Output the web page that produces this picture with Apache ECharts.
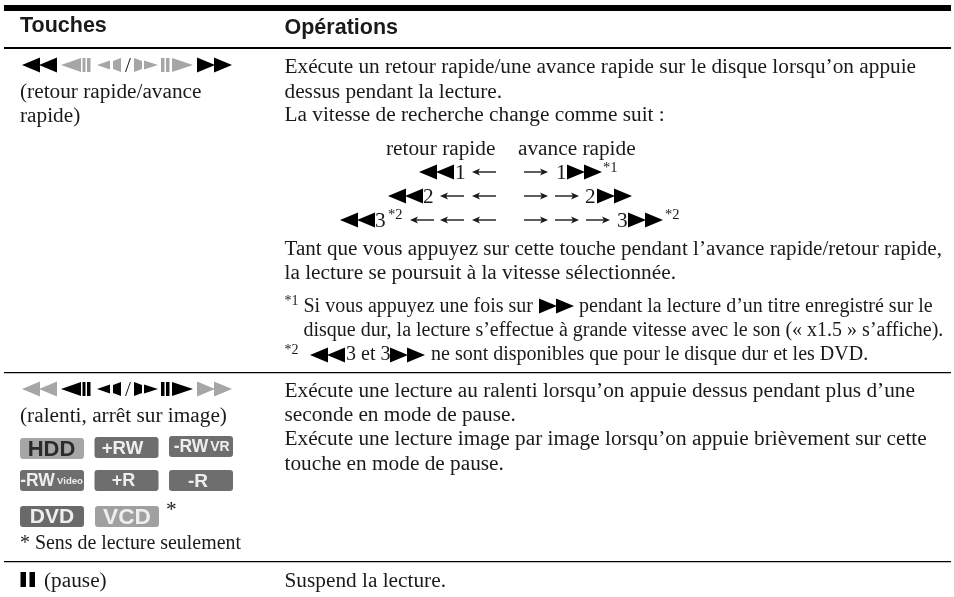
<!DOCTYPE html>
<html><head><meta charset="utf-8">
<style>html,body{margin:0;padding:0;background:#fff}#c{width:954px;height:597px}</style>
<script src="https://cdn.jsdelivr.net/npm/echarts@6/dist/echarts.min.js"></script></head>
<body><div id="c"></div><script>
const headers = ['Touches', 'Opérations'];
const opsRow1 = [
 'Exécute un retour rapide/une avance rapide sur le disque lorsqu’on appuie',
 'dessus pendant la lecture.',
 'La vitesse de recherche change comme suit :'];
const opsRow1b = [
 'Tant que vous appuyez sur cette touche pendant l’avance rapide/retour rapide,',
 'la lecture se poursuit à la vitesse sélectionnée.'];
const opsRow2 = [
 'Exécute une lecture au ralenti lorsqu’on appuie dessus pendant plus d’une',
 'seconde en mode de pause.',
 'Exécute une lecture image par image lorsqu’on appuie brièvement sur cette',
 'touche en mode de pause.'];
const opsRow3 = ['Suspend la lecture.'];
const keyLabels1 = ['(retour rapide/avance', 'rapide)'];
const keyLabels2 = ['(ralenti, arrêt sur image)'];
const keyNote = '* Sens de lecture seulement';
const keyPause = '(pause)';
const speedHead = ['retour rapide', 'avance rapide'];
const badgeNames = [['HDD','+RW','-RW','VR'],['-RW','Video','+R','-R'],['DVD','VCD']];

const g = [];
const SERIF = '"Liberation Serif"', SANS = '"Liberation Sans"';
const FS = 21.3, NOTE = 20;
function T(text, x, y, o={}) {
  g.push({type:'text', x, y, silent:true, style:{text, fill:o.fill||'#1a1a1a',
    font:`${o.weight||'normal'} ${o.size||FS}px ${o.family||SERIF}`,
    textAlign:o.align||'left', textVerticalAlign:'middle'}});
}
function R(x,y,w,h,fill,r){g.push({type:'rect',silent:true,shape:{x,y,width:w,height:h,r:r||0},style:{fill}});}
function P(points,fill){g.push({type:'polygon',silent:true,shape:{points},style:{fill}});}
function triL(x,cy,w,h,fill){P([[x,cy],[x+w,cy-h/2],[x+w,cy+h/2]],fill);}
function triR(x,cy,w,h,fill){P([[x+w,cy],[x,cy-h/2],[x,cy+h/2]],fill);}
function rew(x,cy,fill){triL(x,cy,18,15,fill);triL(x+17,cy,18,15,fill);}
function ff(x,cy,fill){triR(x,cy,18,15,fill);triR(x+17,cy,18,15,fill);}
function arrL(x,cy){R(x+6,cy-0.7,18,1.4,'#1a1a1a');P([[x,cy],[x+8,cy-3.6],[x+6,cy],[x+8,cy+3.6]],'#1a1a1a');}
function arrR(x,cy){R(x,cy-0.7,18,1.4,'#1a1a1a');P([[x+24,cy],[x+16,cy-3.6],[x+18,cy],[x+16,cy+3.6]],'#1a1a1a');}
function keysRow(cy,outer,inner){
  rew(22,cy,outer);
  triL(61,cy,20,14,inner);R(82.5,cy-7,3,14,inner);R(87,cy-7,3.5,14,inner);
  triL(97,cy,13,9,inner);P([[113,cy-4],[121,cy-7],[121,cy+7],[113,cy+4]],inner);
  T('/',125,cy+1);
  P([[134,cy-7],[142,cy-4],[142,cy+4],[134,cy+7]],inner);triR(144,cy,14,9,inner);
  R(161,cy-7,3.5,14,inner);R(166,cy-7,3.5,14,inner);triR(172,cy,21,14,inner);
  ff(197,cy,outer);
}
R(4,5,947,6,'#000');
R(4,47,947,2,'#000');
R(4,372,947,1.2,'#000');
R(4,561,947,1.2,'#000');
T(headers[0],20,26.5,{family:SANS,weight:'bold',size:21.5});
T(headers[1],284.5,28.5,{family:SANS,weight:'bold',size:21.5});
keysRow(65,'#000','#a6a6a6');
T(keyLabels1[0],20,92);T(keyLabels1[1],20,116);
keysRow(389,'#a6a6a6','#000');
T(keyLabels2[0],20,416);
function badge(x,y,w,h,bg,fg,parts){
  R(x,y,w,h,bg,3);
  parts.forEach(p=>T(p[0],x+p[1],y+h/2+1,{family:SANS,weight:'bold',size:p[2],align:'center',fill:fg}));
}
const B=badgeNames;
badge(20,438,64,21,'#a6a6a6','#2b2b2b',[[B[0][0],31.5,22]]);
badge(94.5,437,64,21,'#6e6e6e','#eee',[[B[0][1],28,18.6]]);
badge(169,436,64,21,'#6e6e6e','#eee',[[B[0][2],22,17.5],[B[0][3],51,14]]);
badge(20,470,64,21,'#6e6e6e','#eee',[[B[1][0],17.5,17.5],[B[1][1],50,9.6]]);
badge(94.5,470,64,21,'#6e6e6e','#eee',[[B[1][2],29,18]]);
badge(169,470,64,21,'#6e6e6e','#eee',[[B[1][3],29,19]]);
badge(20,506,64,21,'#6a6a6a','#eee',[[B[2][0],32,21]]);
badge(95,506,64,21,'#a0a0a0','#eee',[[B[2][1],32,22.7]]);
T('*',166,510);
T(keyNote,20,544,{size:19.9});
R(20.5,572,5.5,15,'#000');R(29.5,572,5.5,15,'#000');
T(keyPause,44,581);
T(opsRow1[0],284.5,67);T(opsRow1[1],284.5,92);T(opsRow1[2],284.5,115.5);
T(speedHead[0],386,149);T(speedHead[1],518,149);
function speed(cy,revX,revN,revTx,aL,aR,fwTx,fwN,ffX){
  rew(revX,cy,'#000');T(revN,revTx,cy+1);
  aL.forEach(x=>arrL(x,cy));aR.forEach(x=>arrR(x,cy));
  T(fwN,fwTx,cy+1);ff(ffX,cy,'#000');
}
speed(172,419,'1',455,[472],[524],556,'1',567);
T('*1',603,168,{size:14.5});
speed(196,388,'2',423,[440,472],[524,555],585,'2',597);
speed(220,340,'3',375,[410,440,472],[524,555,586],617,'3',628);
T('*2',388,215,{size:14.5});T('*2',665,215,{size:14.5});
T(opsRow1b[0],284.5,249,{size:21.1});T(opsRow1b[1],284.5,273);
T('*1',284.5,301,{size:14});
T('Si vous appuyez une fois sur',303.5,307,{size:NOTE});
ff(539,306,'#000');
T('pendant la lecture d’un titre enregistré sur le',579,307,{size:NOTE});
T('disque dur, la lecture s’effectue à grande vitesse avec le son (« x1.5 » s’affiche).',303.5,331,{size:NOTE});
T('*2',284.5,350,{size:14});
rew(310,355,'#000');
T('3 et 3',346,355,{size:NOTE});ff(390,355,'#000');
T('ne sont disponibles que pour le disque dur et les DVD.',431,355,{size:NOTE});
T(opsRow2[0],284.5,391);T(opsRow2[1],284.5,415.5);T(opsRow2[2],284.5,439.5);T(opsRow2[3],284.5,464);
T(opsRow3[0],284.5,581);

const chart = echarts.init(document.getElementById('c'),null,{renderer:'canvas'});
chart.setOption({animation:false,backgroundColor:'#fff',graphic:{elements:g}});
</script></body></html>
